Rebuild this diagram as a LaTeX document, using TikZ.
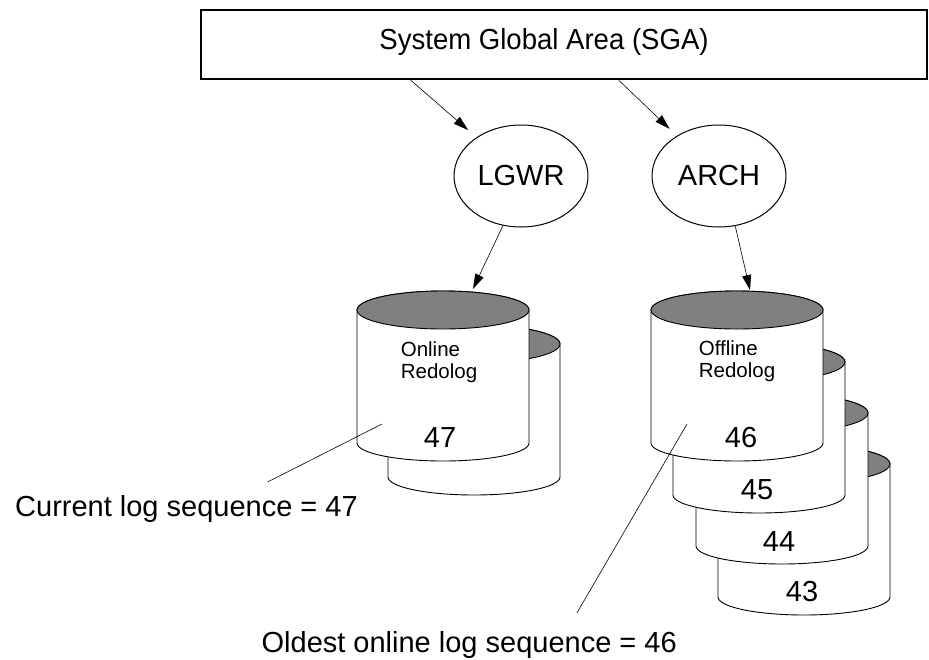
\documentclass[tikz,border=0pt]{standalone}
\usepackage{fontspec}
\setmainfont{Liberation Sans}
\usetikzlibrary{arrows.meta,shapes.geometric,calc}

% one redo log disk: centre x, y of the top ellipse
\newcommand{\redocyl}[2]{%
  \filldraw[cyl] (#1-86,#2) -- (#1-86,#2+133)
    arc[start angle=180,end angle=0,x radius=86,y radius=18]
    -- (#1+86,#2)
    arc[start angle=0,end angle=-180,x radius=86,y radius=19] -- cycle;
  \filldraw[cyl,fill=gray] (#1,#2) ellipse[x radius=86,y radius=19];
}

\begin{document}
\begin{tikzpicture}[x=1pt,y=-1pt,
  every node/.style={font=\fontsize{29}{34}\selectfont},
  box/.style={rectangle, draw, line width=2.5pt, minimum width=726pt,
              minimum height=69pt, inner sep=0pt},
  proc/.style={ellipse, draw, line width=1pt, minimum width=134pt,
               minimum height=102pt, inner sep=0pt},
  cyl/.style={draw, line width=0.9pt, fill=white},
  num/.style={inner sep=0pt},
  small/.style={font=\fontsize{20.5}{21.5}\selectfont, align=left, inner sep=0pt},
  arr/.style={-{Triangle[length=15pt,width=9pt]}, line width=0.6pt},
  callout/.style={line width=0.6pt},
]
\useasboundingbox (0,0) rectangle (929,659);

\node[box] (sga) at (564,44.5) {};
\node (sgatxt) at (544,42) {\scalebox{0.95}[1]{System Global Area (SGA)}};

\node[proc] (lgwr) at (521,176) {LGWR};
\node[proc] (arch) at (719,176) {ARCH};

% online logs
\redocyl{474}{344}
\redocyl{443}{310}
% offline logs, back to front
\redocyl{804}{464}
\redocyl{782}{413}
\redocyl{759}{362}
\redocyl{737}{310}

\node[small] (onltxt) at (439,362) {Online\\Redolog};
\node[small] (offtxt) at (737,361) {Offline\\Redolog};
\node[num] (n47) at (440,438) {47};
\node[num] (n46) at (741,438) {46};
\node[num] (n45) at (757,490) {45};
\node[num] (n44) at (779,542) {44};
\node[num] (n43) at (802,592) {43};

\coordinate (onlin) at (473,289);
\coordinate (offin) at (750,290);
\coordinate (curpt) at (382,424);
\coordinate (oldpt) at (687,424);

\node[anchor=base west, inner sep=0pt] (curlbl) at (15,516) {Current log sequence = 47};
\node[anchor=base east, inner sep=0pt] (oldlbl) at (677,652) {Oldest online log sequence = 46};

\draw[arr, shorten >=11pt] ($(sga.south west)+(211,0)$) -- (lgwr);
\draw[arr, shorten >=10pt] ($(sga.south west)+(419,0)$) -- (arch);
\draw[arr] (lgwr.-110) -- (onlin);
\draw[arr] (arch.-72) -- (offin);

\draw[callout] ([xshift=253pt,yshift=13pt]curlbl.north west) -- (curpt);
\draw[callout] ([xshift=-100pt,yshift=18pt]oldlbl.north east) -- (oldpt);
\end{tikzpicture}
\end{document}
